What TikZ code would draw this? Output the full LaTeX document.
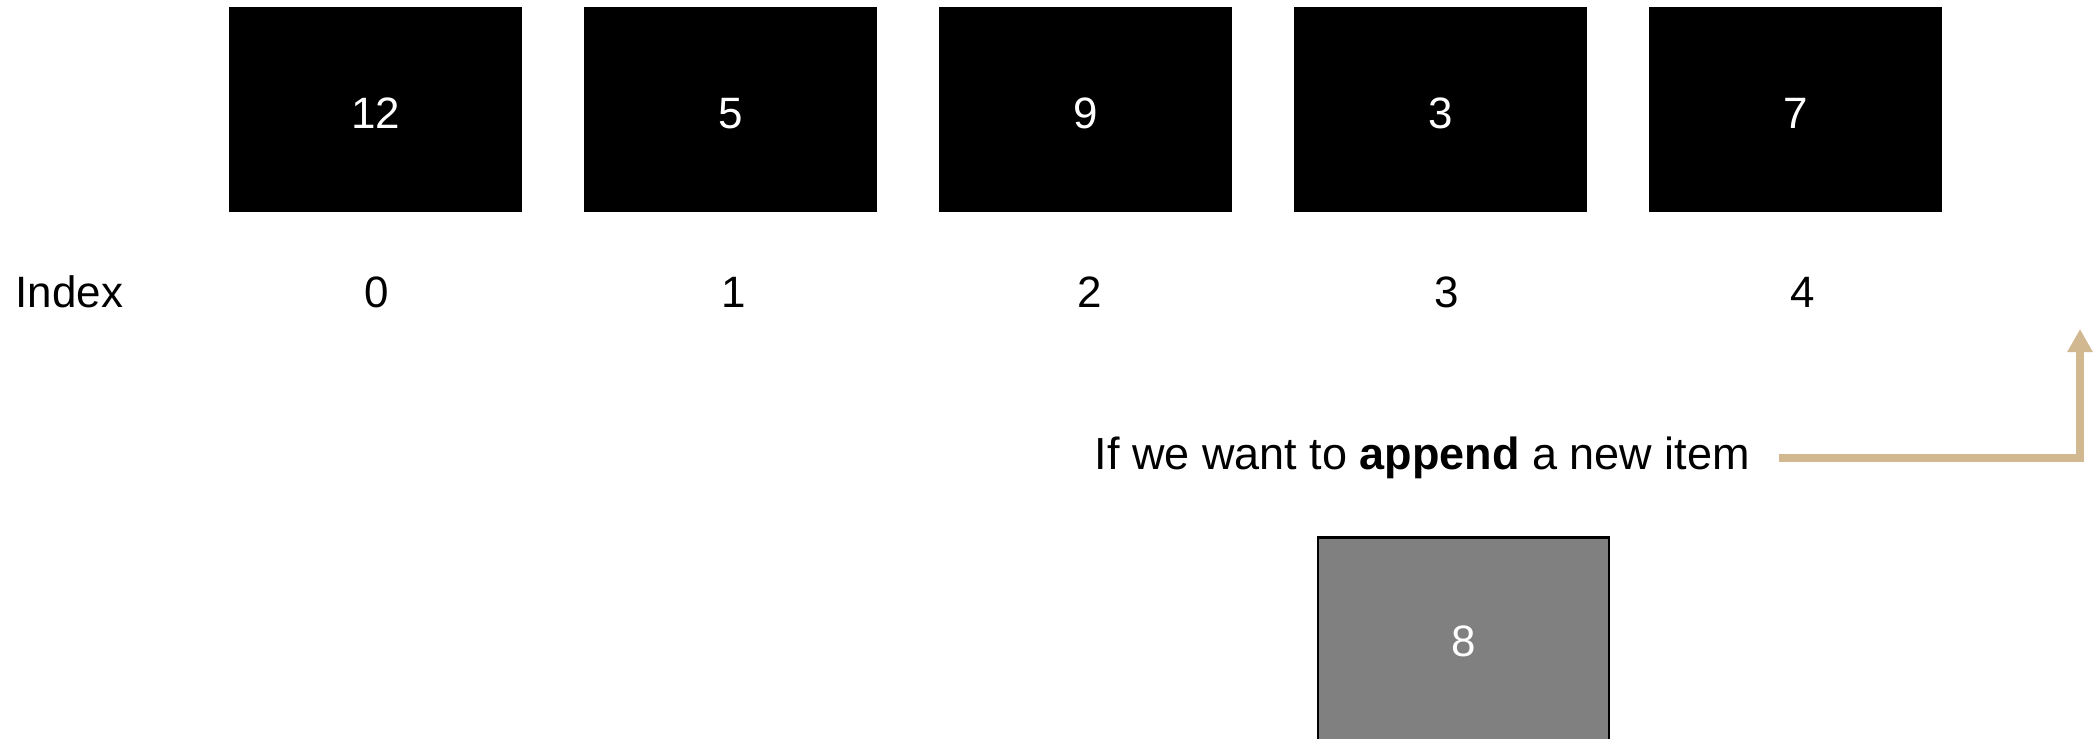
\documentclass[tikz,border=0pt]{standalone}
\usepackage{fontspec}
\setmainfont{Liberation Sans}
\usepackage{xcolor}
\usepackage{tikz}
\usetikzlibrary{arrows.meta,positioning}
\definecolor{arrowtan}{RGB}{210,184,145}
\tikzset{
  cell/.style={rectangle, fill=black, text=white, inner sep=0pt,
               minimum width=29.3mm, minimum height=20.5mm,
               text height=3.75mm, text depth=0pt,
               font=\fontsize{12.5}{15}\selectfont},
  newcell/.style={cell, fill=black!50, draw=black, line width=0.25mm,
                  minimum width=29.1mm, text height=3.35mm},
  idx/.style={inner sep=0pt, font=\fontsize{12.5}{15}\selectfont},
  msg/.style={inner sep=0pt, font=\fontsize{12.8}{15}\selectfont},
  apparrow/.style={-{Triangle[length=2.3mm, width=2.4mm]}, draw=arrowtan,
                   line width=0.8mm},
}

\begin{document}
\begin{tikzpicture}
\useasboundingbox (0,0) rectangle (21,-7.38);
% the array and its indices
\foreach \v [count=\i from 0] in {12,5,9,3,7} {
  \node[cell] (c\i) at (3.755+3.55*\i,-1.095) {\v};
  \node[idx] (i\i) at (3.77+3.565*\i,-2.92) {\i};
}
\node[idx, anchor=west] (index) at (0.15,-2.92) {Index};
% item to append
\node[msg, anchor=base west] (note) at (10.94,-4.69) {If we want to \textbf{append} a new item};
\node[newcell] (new) at (14.635,-6.40) {8};
\coordinate (from) at (17.79,-4.58);
\coordinate (tip) at (20.80,-3.29);
\draw[apparrow] (from) -| (tip);
\end{tikzpicture}
\end{document}
